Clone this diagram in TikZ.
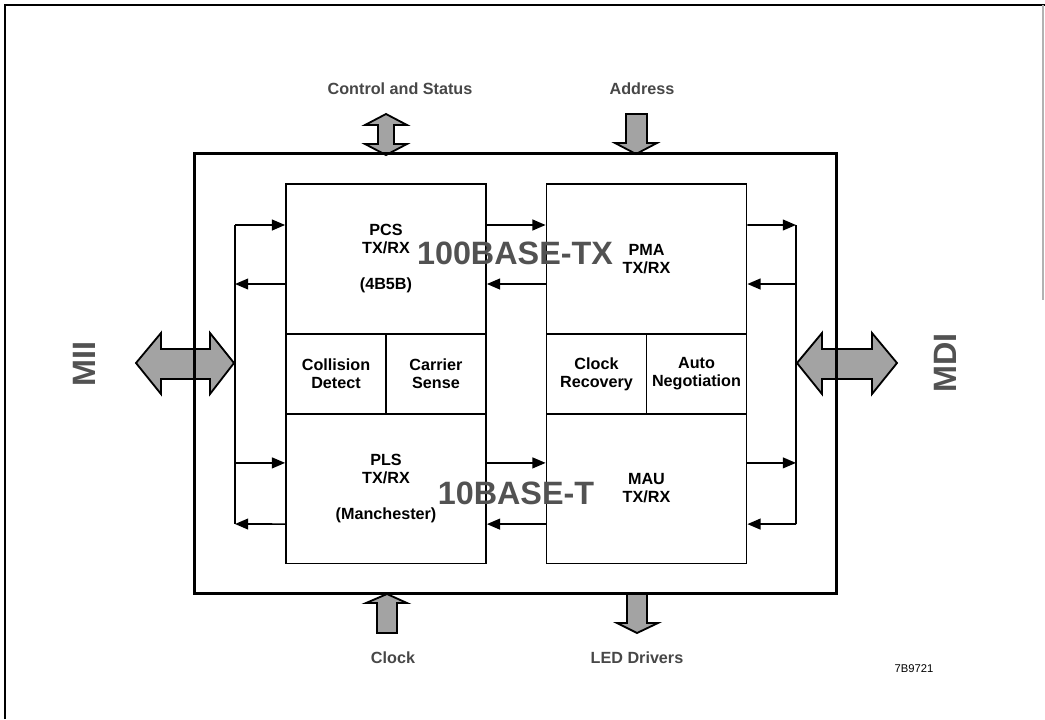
\documentclass[tikz,border=0pt]{standalone}
\usepackage{fontspec}
\setmainfont{Liberation Sans}
\usetikzlibrary{arrows.meta,calc}
\tikzset{blk/.style={draw,line width=1.2pt,minimum width=5cm,minimum height=3.75cm,align=center,inner sep=0pt,font=\fontsize{11.5}{12.8}\selectfont\bfseries},
 sub/.style={blk,minimum width=2.5cm,minimum height=2cm},
 chipbox/.style={draw,line width=2.2pt,minimum width=16.025cm,minimum height=10.975cm},
 arr/.style={-{Triangle[length=3.3mm,width=2.7mm]},line width=1.2pt},
 bus/.style={line width=1.9pt},
 fat/.style={draw=black,line width=1.3pt,fill=gray!72,line join=miter},
 io/.style={font=\fontsize{11.5}{13}\selectfont\bfseries,text=black!72},
 big/.style={font=\fontsize{23}{26}\selectfont\bfseries,text=black!68},
 every node/.style={inner sep=0pt}}
\begin{document}
\begin{tikzpicture}[x=0.025cm,y=-0.025cm]
\useasboundingbox (0,0) rectangle (1045,719);
% page frame
\draw[line width=1.2pt] (5,719) -- (5,5) -- (1045,5);
\draw[gray!60,line width=.8pt] (1043,5) -- (1043,300);
% interface arrows
\draw[fat] (136,363) -- (161,333) -- (161,349) -- (210,349) -- (210,333) -- (234,363) -- (210,394) -- (210,379) -- (161,379) -- (161,394) -- cycle;
\draw[fat] (797,363) -- (822,333) -- (822,349) -- (872,349) -- (872,333) -- (897,363) -- (872,394) -- (872,379) -- (822,379) -- (822,394) -- cycle;
\draw[fat] (386,114) -- (407,125) -- (394,125) -- (394,144) -- (407,144) -- (386,155) -- (365,144) -- (378,144) -- (378,125) -- (365,125) -- cycle;
\draw[fat] (626,114) -- (647,114) -- (647,143) -- (657,143) -- (636,154) -- (615,143) -- (626,143) -- cycle;
\draw[fat] (387,594) -- (407,603) -- (397,603) -- (397,633) -- (377,633) -- (377,603) -- (366,603) -- cycle;
\draw[fat] (627,594) -- (647,594) -- (647,623) -- (658,623) -- (637,633) -- (617,623) -- (627,623) -- cycle;
% chip and blocks
\node[chipbox] (chip) at (515.5,373.5) {};
\node[blk] (pcs) at (386,259) {PCS\\TX/RX\\[12.8pt](4B5B)};
\node[blk] (pma) at (646.5,259) {PMA\\TX/RX};
\node[sub] (coll) at (336,374) {Collision\\Detect};
\node[sub] (carr) at (436,374) {Carrier\\Sense};
\node[sub] (clkrec) at (596.5,374) {Clock\\Recovery};
\node[sub] (autoneg) at (696.5,374) {Auto\\Negotiation};
\node[blk] (pls) at (386,488.5) {PLS\\TX/RX\\[12.8pt](Manchester)};
\node[blk] (mau) at (646.5,488.5) {MAU\\TX/RX};
% data paths
\draw[arr] ([yshift=.85cm]pcs.east) -- ([yshift=.85cm]pma.west);
\draw[arr] ([yshift=-.625cm]pma.west) -- ([yshift=-.625cm]pcs.east);
\draw[arr] ([yshift=.64cm]pls.east) -- ([yshift=.64cm]mau.west);
\draw[arr] ([yshift=-.89cm]mau.west) -- ([yshift=-.89cm]pls.east);
% MII side bus
\coordinate (lbt) at (235,225);
\coordinate (lbb) at (235,524);
\draw[bus] (lbt) -- (lbb);
\draw[arr] (lbt) -- ([yshift=.85cm]pcs.west);
\draw[arr] ([yshift=-.625cm]pcs.west) -- ([yshift=-.625cm]pcs.west -| lbt);
\draw[arr] ([yshift=.64cm]pls.west -| lbt) -- ([yshift=.64cm]pls.west);
\draw[arr] ([yshift=-.89cm]pls.west) -- (lbb);
% MDI side bus
\coordinate (rbt) at (796,225);
\coordinate (rbb) at (796,524);
\draw[bus] (rbt) -- (rbb);
\draw[arr] ([yshift=.85cm]pma.east) -- (rbt);
\draw[arr] ([yshift=-.625cm]pma.east -| rbt) -- ([yshift=-.625cm]pma.east);
\draw[arr] ([yshift=.64cm]mau.east) -- ([yshift=.64cm]mau.east -| rbt);
\draw[arr] (rbb) -- ([yshift=-.89cm]mau.east);
% labels
\node[big] (tx) at (515,253) {100BASE-TX};
\node[big] (tt) at (516,493) {10BASE-T};
\node[big,rotate=90] (mii) at (84,364) {MII};
\node[big,rotate=90] (mdi) at (945,363) {MDI};
\node[io] (ctl) at (400,89) {Control and Status};
\node[io] (adr) at (642,89) {Address};
\node[io] (clk) at (393,658) {Clock};
\node[io] (led) at (637,658) {LED Drivers};
\node[font=\fontsize{8}{9}\selectfont] (fig) at (914,669) {7B9721};
\end{tikzpicture}
\end{document}
